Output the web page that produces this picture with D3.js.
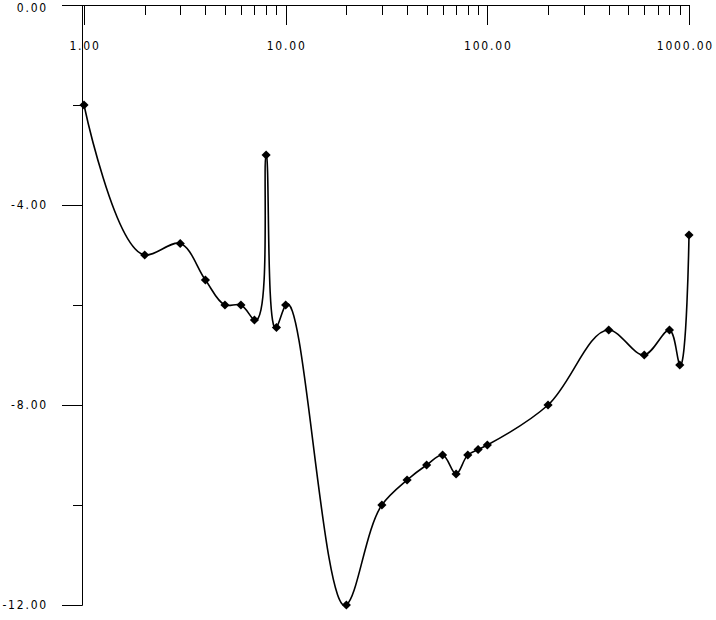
<!DOCTYPE html>
<html>
<head>
<meta charset="utf-8">
<script src="https://cdn.jsdelivr.net/npm/d3@7"></script>
<style>
  html, body { margin: 0; padding: 0; background: #fff; }
  svg { display: block; }
  .lbl { font-family: "Liberation Sans Narrow", "DejaVu Sans Condensed", "Liberation Sans", sans-serif; font-size: 12px; letter-spacing: 1.8px; fill: #000; }
</style>
</head>
<body>
<svg id="chart" width="716" height="620"></svg>
<script>
const xValues = [1, 2, 3, 4, 5, 6, 7, 8, 9, 10, 20, 30, 40, 50, 60, 70, 80, 90, 100, 200, 400, 600, 800, 900, 1000];
const yValues = [-2.0, -5.0, -4.77, -5.5, -6.0, -6.0, -6.3, -3.0, -6.45, -6.0, -12.0, -10.0, -9.5, -9.2, -9.0, -9.38, -9.0, -8.89, -8.8, -8.0, -6.5, -7.0, -6.5, -7.2, -4.6];
const xMajorTicks = [1, 10, 100, 1000];
const xTickLabels = ["1.00", "10.00", "100.00", "1000.00"];
const yMajorTicks = [0, -4, -8, -12];
const yTickLabels = ["0.00", "-4.00", "-8.00", "-12.00"];
const yMinorTicks = [-2, -6, -10];

const svg = d3.select("#chart");
const x = d3.scaleLog().domain([1, 1000]).range([84, 689]);
const y = d3.scaleLinear().domain([0, -12]).range([5, 605]);
const axisX = 82.5;

const data = xValues.map((v, i) => ({x: v, y: yValues[i]}));

// top x axis line
svg.append("line").attr("x1", 62).attr("x2", x(1000) + 0.5).attr("y1", y(0) + 0.5).attr("y2", y(0) + 0.5)
  .attr("stroke", "#000").attr("stroke-width", 1);
// y axis line
svg.append("line").attr("x1", axisX).attr("x2", axisX).attr("y1", y(0)).attr("y2", y(-12) + 0.5)
  .attr("stroke", "#000").attr("stroke-width", 1);

// x ticks (log minor + major)
const allXTicks = [];
for (let d = 1; d < 1000; d *= 10) { for (let k = 1; k < 10; k++) allXTicks.push(d * k); }
allXTicks.push(1000);
svg.append("g").selectAll("line").data(allXTicks).join("line")
  .attr("x1", d => Math.round(x(d)) + 0.5).attr("x2", d => Math.round(x(d)) + 0.5)
  .attr("y1", y(0))
  .attr("y2", d => y(0) + (xMajorTicks.includes(d) ? 20 : 10))
  .attr("stroke", "#000").attr("stroke-width", 1);

svg.append("g").selectAll("text").data(xMajorTicks).join("text")
  .attr("class", "lbl")
  .attr("x", (d, i) => i === 3 ? 714 : x(d) + 1)
  .attr("y", 50)
  .attr("text-anchor", (d, i) => i === 3 ? "end" : "middle")
  .text((d, i) => xTickLabels[i]);

// y ticks
svg.append("g").selectAll("line").data(yMajorTicks.filter(d => d !== 0)).join("line")
  .attr("x1", 62).attr("x2", axisX)
  .attr("y1", d => Math.round(y(d)) + 0.5).attr("y2", d => Math.round(y(d)) + 0.5)
  .attr("stroke", "#000").attr("stroke-width", 1);
svg.append("g").selectAll("line").data(yMinorTicks).join("line")
  .attr("x1", 73).attr("x2", axisX)
  .attr("y1", d => Math.round(y(d)) + 0.5).attr("y2", d => Math.round(y(d)) + 0.5)
  .attr("stroke", "#000").attr("stroke-width", 1);

svg.append("g").selectAll("text").data(yMajorTicks).join("text")
  .attr("class", "lbl")
  .attr("x", 48)
  .attr("y", d => Math.min(Math.max(y(d) + 4, 12), 614))
  .attr("text-anchor", "end")
  .text((d, i) => yTickLabels[i]);

// curve
const line = d3.line().x(d => x(d.x)).y(d => y(d.y)).curve(d3.curveCatmullRom.alpha(0.7));
svg.append("path").datum(data).attr("d", line)
  .attr("fill", "none").attr("stroke", "#000").attr("stroke-width", 1.6);

// markers
svg.append("g").selectAll("path").data(data).join("path")
  .attr("d", d3.symbol(d3.symbolSquare, 42))
  .attr("transform", d => `translate(${x(d.x)},${y(d.y)}) rotate(45)`)
  .attr("fill", "#000");
</script>
</body>
</html>
